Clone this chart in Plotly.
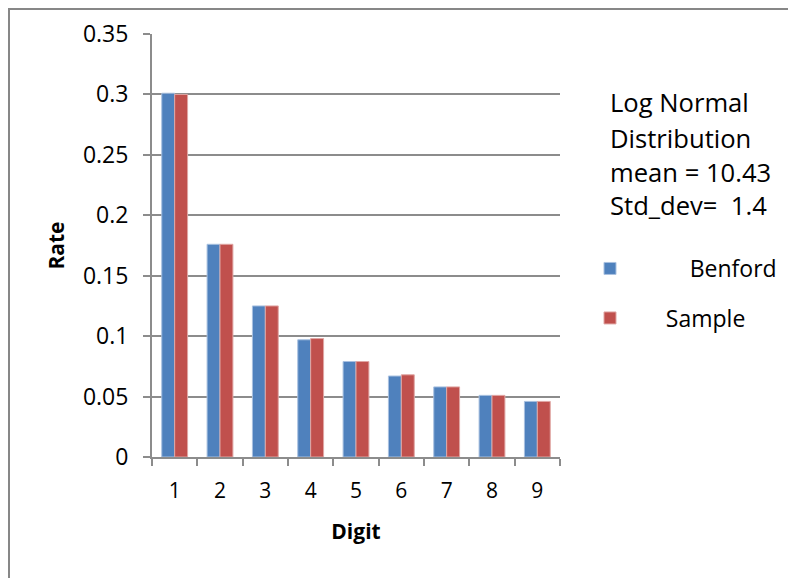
import plotly.graph_objects as go

digits = ["1", "2", "3", "4", "5", "6", "7", "8", "9"]
benford = [0.301, 0.176, 0.125, 0.097, 0.079, 0.067, 0.058, 0.051, 0.046]
sample = [0.300, 0.176, 0.125, 0.098, 0.079, 0.068, 0.058, 0.051, 0.046]
y_tickvals = [0, 0.05, 0.1, 0.15, 0.2, 0.25, 0.3, 0.35]
y_ticktext = ["0", "0.05", "0.1", "0.15", "0.2", "0.25", "0.3", "0.35"]
note_lines = ["Log Normal", "Distribution", "mean = 10.43", "Std_dev=\u00a0\u00a01.4"]

FONT = "Open Sans"
GRAY = "#8c8c8c"
NB = "\u00a0"
OFF = 8  # page body margin of the html page

fig = go.Figure()
fig.add_trace(go.Bar(
    x=digits, y=benford, name=NB * 10 + "Benford",
    marker=dict(color="#4F81BD", line=dict(color="#a9c1e0", width=1)),
    legend="legend", showlegend=True,
))
fig.add_trace(go.Bar(
    x=digits, y=sample, name=NB * 6 + "Sample",
    marker=dict(color="#C0504D", line=dict(color="#e0a6a4", width=1)),
    legend="legend2", showlegend=True,
))

W, H = 796, 578
# plot area in reference-pixel coordinates
X0, X1, Y0, Y1 = 152, 560, 34, 457
L, T = X0 - OFF, Y0 - OFF
R, B = W - (X1 - OFF), H - (Y1 - OFF)
pw, ph = X1 - X0, Y1 - Y0

def px_x(p):
    return (p - X0) / pw

def px_y(p):
    return (Y1 - p) / ph

fig.update_layout(
    width=W, height=H,
    margin=dict(l=L, r=R, t=T, b=B, autoexpand=False),
    paper_bgcolor="white", plot_bgcolor="white",
    font=dict(family=FONT, color="black"),
    showlegend=True,
    barmode="group", bargap=0.43, bargroupgap=0,
    legend=dict(x=px_x(590), y=px_y(247), xanchor="left", yanchor="top",
                font=dict(size=23, family=FONT), bgcolor="rgba(0,0,0,0)", visible=True),
    legend2=dict(x=px_x(590), y=px_y(296.5), xanchor="left", yanchor="top",
                 font=dict(size=23, family=FONT), bgcolor="rgba(0,0,0,0)", visible=True),
    xaxis=dict(
        type="category", tickson="boundaries", ticks="outside", ticklen=7,
        tickwidth=2, tickcolor=GRAY, showline=True, linecolor=GRAY, linewidth=2,
        showgrid=False, tickfont=dict(size=21, family=FONT),
        ticklabelstandoff=14,
        title=dict(text="<b>Digit</b>", font=dict(size=21, family=FONT), standoff=21),
    ),
    yaxis=dict(
        range=[0, 0.35], tickvals=y_tickvals, ticktext=y_ticktext,
        ticks="outside", ticklen=7, tickwidth=2, tickcolor=GRAY,
        showline=True, linecolor=GRAY, linewidth=2,
        showgrid=True, gridcolor=GRAY, gridwidth=2, zeroline=False,
        tickfont=dict(size=23, family=FONT), ticklabelstandoff=10,
        title=dict(text="<b>Rate</b>", font=dict(size=21, family=FONT), standoff=13),
    ),
)

line_centers = [102, 138, 172.5, 205.5]
for txt, yc in zip(note_lines, line_centers):
    fig.add_annotation(
        xref="paper", yref="paper", x=px_x(608), y=px_y(yc),
        xanchor="left", yanchor="middle", align="left", showarrow=False,
        text=txt, font=dict(size=25.6, family=FONT, color="black"),
    )

# outer chart frame (left and top edges visible, rest runs off the picture)
fig.add_shape(
    type="rect", xref="paper", yref="paper",
    x0=px_x(OFF + 1), x1=px_x(830), y0=px_y(620), y1=px_y(OFF + 1),
    line=dict(color="#878787", width=2), fillcolor="rgba(0,0,0,0)", layer="below",
)

fig.write_html("out.html")
